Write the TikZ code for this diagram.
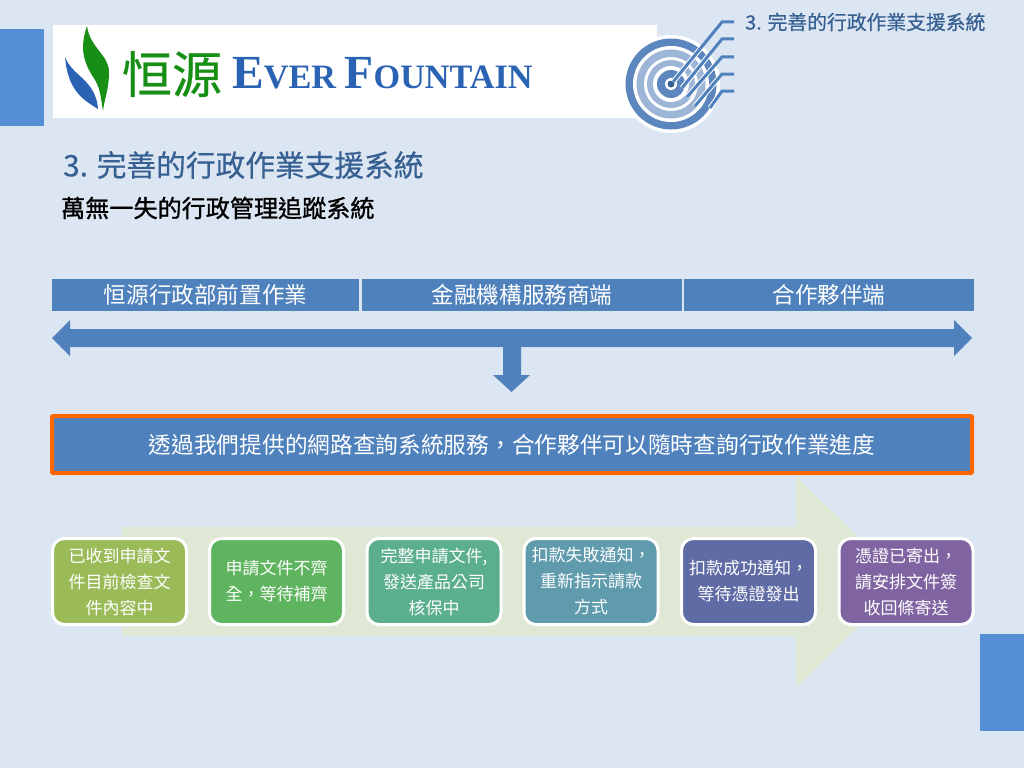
\documentclass[tikz,border=0pt]{standalone}
\usepackage{fontspec}
\setmainfont{Noto Sans CJK TC}
\newfontfamily\semifont[FakeBold=0.5]{Noto Sans CJK TC}
\newfontfamily\boldishfont[FakeBold=1.1]{Noto Sans CJK TC}
\newfontfamily\logoserif{Liberation Serif}
\definecolor{bgc}{HTML}{DCE6F2}
\definecolor{sidec}{HTML}{558ED5}
\definecolor{barc}{HTML}{4F81BD}
\definecolor{orangec}{HTML}{FF6600}
\definecolor{flowc}{HTML}{DFE8D5}
\definecolor{titlec}{HTML}{376092}
\definecolor{ringd}{HTML}{5B86BE}
\definecolor{ringl}{HTML}{9DB5D6}
\definecolor{logob}{HTML}{2A62B4}
\definecolor{logog}{HTML}{178F14}
\definecolor{sa}{HTML}{9BBB59}
\definecolor{sb}{HTML}{5FB55F}
\definecolor{sc}{HTML}{5BAE8E}
\definecolor{sd}{HTML}{5F9BAD}
\definecolor{se}{HTML}{5F6BA5}
\definecolor{sf}{HTML}{8064A2}
\newcommand{\px}[1]{\fontsize{#1pt}{#1pt}\selectfont}
\tikzset{
  barbox/.style={fill=barc,text=white,inner sep=0pt,anchor=center,font=\px{22.6},minimum height=32pt},
  stepbox/.style={draw=white,line width=3pt,rounded corners=12pt,text=white,align=center,
    minimum width=134pt,minimum height=86pt,inner sep=0pt,font=\fontsize{17pt}{26pt}\selectfont},
  ray/.style={draw=barc,line width=3pt},
  rayhalo/.style={draw=white,line width=5pt}
}
\begin{document}
\begin{tikzpicture}[x=1pt,y=-1pt]
\useasboundingbox (0,0) rectangle (1024,768);
\fill[bgc] (0,0) rectangle (1024,768);
\fill[sidec] (0,29) rectangle (44,126);
\fill[sidec] (980,634) rectangle (1024,731);
\fill[white] (53,25) rectangle (657,118);
% logo
\fill[logog] (87,26) .. controls (90,48) and (109,55) .. (109,72) .. controls (109,90) and (104,100) .. (103,111)
  .. controls (101,100) and (101,90) .. (95,80) .. controls (86,66) and (78,52) .. (87,26) -- cycle;
\fill[logob] (65,57) .. controls (72,76) and (96,80) .. (98,109) .. controls (84,100) and (68,92) .. (65,57) -- cycle;
\node[text=logog,anchor=center,inner sep=0pt,font=\semifont\px{50}] (logocn) at (172,74) {恒源};
\node[text=logob,anchor=base west,inner sep=0pt,font=\logoserif\bfseries\px{47.5}] (logoen) at (232,88) {E\px{34.2}VER \px{47.5}F\px{34.2}OUNTAIN};
% target
\fill[white] (671,84) circle (49);
\fill[ringd] (671,84) circle (45.5);
\fill[white] (671,84) circle (38);
\fill[ringl] (671,84) circle (34.5);
\fill[white] (671,84) circle (27);
\fill[ringl] (671,84) circle (24);
\fill[white] (671,84) circle (18);
\fill[ringd] (671,84) circle (14);
\fill[white] (671,84) circle (6);
\fill[titlec] (671,84) circle (3.5);
\coordinate (ra1) at (673,82); \coordinate (rb1) at (722,22); \coordinate (rc1) at (734,22);
\coordinate (ra2) at (682,88); \coordinate (rb2) at (722,39); \coordinate (rc2) at (734,39);
\coordinate (ra3) at (687,97); \coordinate (rb3) at (722,57); \coordinate (rc3) at (734,57);
\coordinate (ra4) at (695,106); \coordinate (rb4) at (722,74); \coordinate (rc4) at (734,74);
\coordinate (ra5) at (710,108); \coordinate (rb5) at (722,91); \coordinate (rc5) at (734,91);
\begin{scope}
  \clip (671,84) circle (49);
  \foreach \i in {1,...,5}{ \draw[rayhalo] (ra\i) -- (rb\i); }
\end{scope}
\foreach \i in {1,...,5}{ \draw[ray] (ra\i) -- (rb\i) -- (rc\i); }
\node[text=titlec,anchor=west,inner sep=0pt,font=\semifont\px{19.8}] (headline) at (745,22) {3. 完善的行政作業支援系統};
\node[text=titlec,anchor=west,inner sep=0pt,font=\semifont\px{29.7}] (title) at (63,165) {3. 完善的行政作業支援系統};
\node[text=black,anchor=west,inner sep=0pt,font=\boldishfont\px{24.1}] (subtitle) at (61,208) {萬無一失的行政管理追蹤系統};
% bars
\node[barbox,minimum width=307pt] (bara) at (205.5,295) {恒源行政部前置作業};
\node[barbox,minimum width=320pt] (barb) at (522,295) {金融機構服務商端};
\node[barbox,minimum width=290pt] (barc) at (829,295) {合作夥伴端};
% double arrow and down arrow
\fill[barc] (52,338) -- (70,320) -- (70,329) -- (503,329) -- (954,329) -- (954,320) -- (972,338) -- (954,356) -- (954,347)
  -- (521,347) -- (521,375) -- (530,375) -- (511.5,392) -- (493,375) -- (503,375) -- (503,347) -- (70,347) -- (70,356) -- cycle;
% message
\node[fill=barc,draw=orangec,line width=4pt,rounded corners=1pt,text=white,inner sep=0pt,
  minimum width=920pt,minimum height=57pt,font=\px{22.7}] (msg) at (512,444.5)
  {透過我們提供的網路查詢系統服務，合作夥伴可以隨時查詢行政作業進度};
% flow arrow
\fill[flowc] (122,527) -- (796,527) -- (796,476) -- (904,582) -- (796,688) -- (796,636) -- (122,636) -- cycle;
% steps
\node[stepbox,fill=sa] (s1) at (119.5,581.5) {已收到申請文\\件目前檢查文\\件內容中};
\node[stepbox,fill=sb] (s2) at (276.5,581.5) {申請文件不齊\\全，等待補齊};
\node[stepbox,fill=sc] (s3) at (434,581.5) {完整申請文件,\\發送產品公司\\核保中};
\node[stepbox,fill=sd] (s4) at (591,581.5) {扣款失敗通知，\\重新指示請款\\方式};
\node[stepbox,fill=se] (s5) at (748.5,581.5) {扣款成功通知，\\等待憑證發出};
\node[stepbox,fill=sf] (s6) at (906,581.5) {憑證已寄出，\\請安排文件簽\\收回條寄送};
\end{tikzpicture}
\end{document}
